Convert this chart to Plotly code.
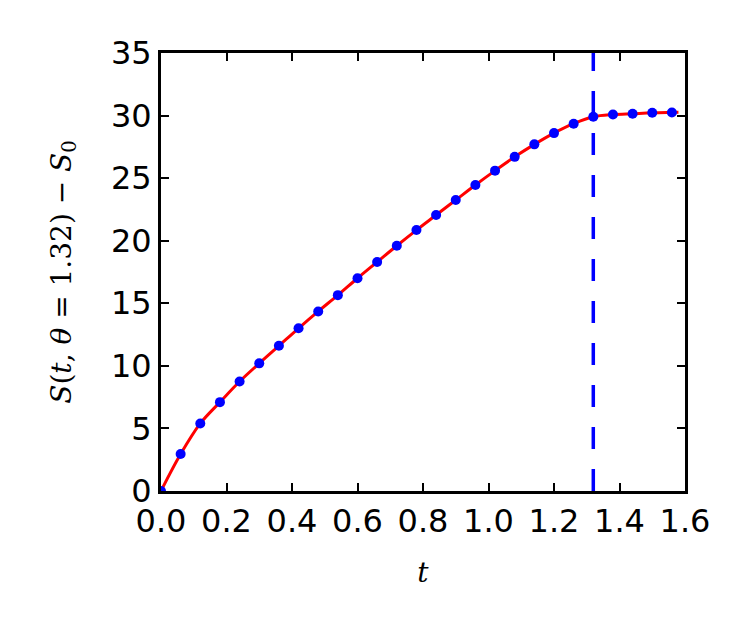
import plotly.graph_objects as go

theta = 1.32
t_points = [0.0, 0.06, 0.12, 0.18, 0.24, 0.30, 0.36, 0.42, 0.48, 0.54, 0.60, 0.66, 0.72,
            0.78, 0.84, 0.90, 0.96, 1.02, 1.08, 1.14, 1.20, 1.26, 1.32, 1.38, 1.44,
            1.50, 1.56]
s_points = [0.0, 2.95, 5.4, 7.1, 8.75, 10.2, 11.6, 13.0, 14.35, 15.65, 17.0, 18.3, 19.6,
            20.85, 22.05, 23.25, 24.45, 25.6, 26.7, 27.7, 28.6, 29.35, 29.9, 30.08, 30.15,
            30.22, 30.25]
t_line = t_points + [1.58]
s_line = s_points + [30.26]

x_ticks = [0.0, 0.2, 0.4, 0.6, 0.8, 1.0, 1.2, 1.4, 1.6]
x_ticklabels = ["0.0", "0.2", "0.4", "0.6", "0.8", "1.0", "1.2", "1.4", "1.6"]
y_ticks = [0, 5, 10, 15, 20, 25, 30, 35]

fig = go.Figure()
fig.add_trace(go.Scatter(x=t_line, y=s_line, mode="lines",
                         line=dict(color="red", width=3, shape="spline"),
                         showlegend=False, hoverinfo="skip", cliponaxis=False))
fig.add_trace(go.Scatter(x=t_points, y=s_points, mode="markers",
                         marker=dict(color="blue", size=10, line=dict(width=0)),
                         showlegend=False, cliponaxis=True))
fig.add_vline(x=theta, line=dict(color="blue", width=3.5, dash="22px,20px"))

axis_common = dict(
    showgrid=False, zeroline=False, showline=True, linecolor="black", linewidth=3,
    mirror="ticks", ticks="inside", ticklen=8, tickwidth=1.5, tickcolor="black",
    tickfont=dict(family="DejaVu Sans", size=32, color="black"),
)
fig.update_xaxes(range=[0, 1.6], tickvals=x_ticks, ticktext=x_ticklabels,
                 title=dict(text="<i>t</i>", font=dict(family="DejaVu Serif", size=28, color="black"),
                            standoff=23),
                 **axis_common)
fig.update_yaxes(range=[0, 35], tickvals=y_ticks,
                 title=dict(text="<i>S</i>(<i>t</i>, <i>θ</i> = 1.32) − <i>S</i><sub>0</sub>",
                            font=dict(family="DejaVu Serif", size=28, color="black"),
                            standoff=32),
                 **axis_common)
fig.update_layout(width=742, height=617, plot_bgcolor="white", paper_bgcolor="white",
                  margin=dict(l=153, r=65, t=45, b=134, autoexpand=False))
fig.write_html("out.html")
